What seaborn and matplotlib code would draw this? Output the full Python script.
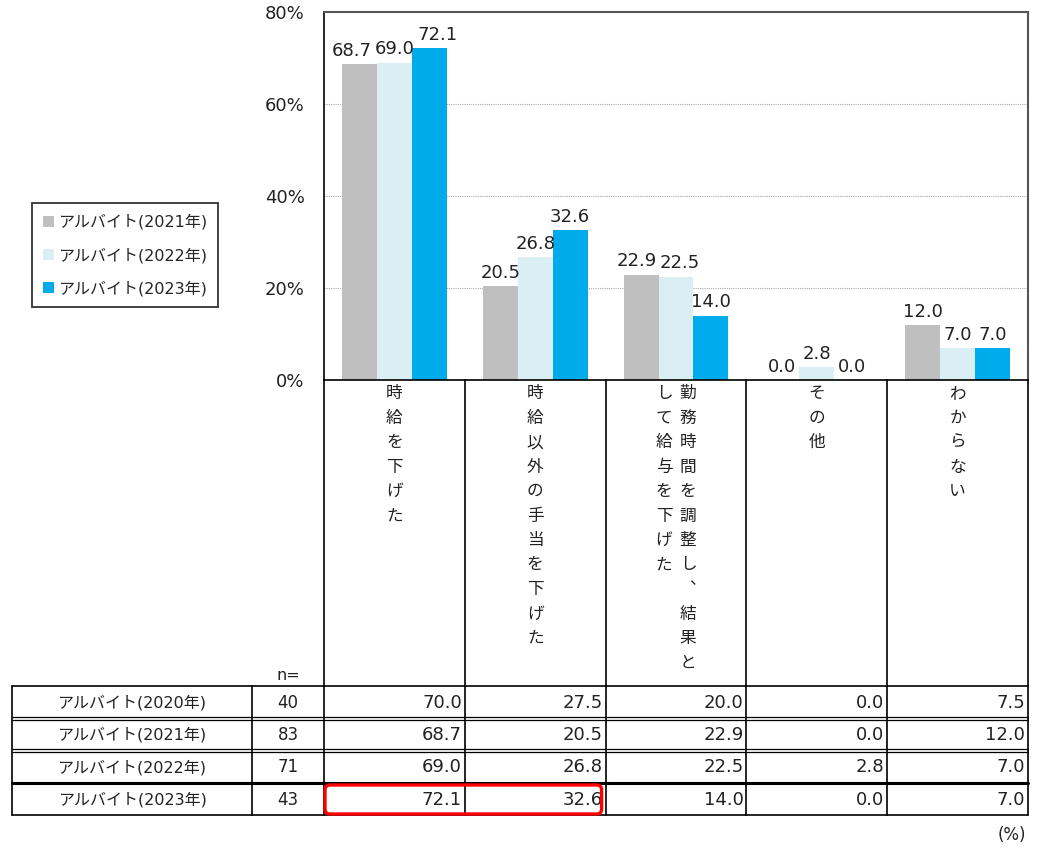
import pandas as pd
import matplotlib.pyplot as plt
import seaborn as sns
from matplotlib.patches import FancyBboxPatch

# Data
categories = ["時給を下げた", "時給以外の手当を下げた",
              "勤務時間を調整し、結果として給与を下げた", "その他", "わからない"]
chart_years = ["アルバイト(2021年)", "アルバイト(2022年)", "アルバイト(2023年)"]
v2021 = [68.7, 20.5, 22.9, 0.0, 12.0]
v2022 = [69.0, 26.8, 22.5, 2.8, 7.0]
v2023 = [72.1, 32.6, 14.0, 0.0, 7.0]
v2020 = [70.0, 27.5, 20.0, 0.0, 7.5]

table_rows = ["アルバイト(2020年)", "アルバイト(2021年)", "アルバイト(2022年)", "アルバイト(2023年)"]
table_n = [40, 83, 71, 43]
table_values = [v2020, v2021, v2022, v2023]

colors = ["#BFBFBF", "#DAEEF3", "#00ABEB"]
yticks = [0, 20, 40, 60, 80]

# Long-form frame for seaborn
df = pd.DataFrame({
    "category": categories * 3,
    "year": [y for y in chart_years for _ in categories],
    "value": v2021 + v2022 + v2023,
})

sns.set_style("white")
plt.rcParams["font.family"] = ["DejaVu Sans", "Noto Sans CJK JP"]

W, H = 1041, 849
AX_L, AX_R, AX_T, AX_B = 324, 1028, 12, 380

fig = plt.figure(figsize=(W / 100, H / 100), dpi=100)
ax = fig.add_axes([AX_L / W, 1 - AX_B / H, (AX_R - AX_L) / W, (AX_B - AX_T) / H])

sns.barplot(data=df, x="category", y="value", hue="year", palette=colors,
            width=0.745, saturation=1, linewidth=0, ax=ax)

bar_texts = []
for cont in ax.containers:
    bar_texts.append(ax.bar_label(cont, fmt="%.1f", padding=3, fontsize=13, color="#222222"))

ax.set_ylim(0, 80)
ax.set_yticks(yticks)
ax.set_yticklabels([f"{t}%" for t in yticks], fontsize=13, color="#222222")
ax.tick_params(axis="y", direction="in", length=5, pad=14, color="#444444")
ax.tick_params(axis="x", bottom=False, labelbottom=False)
ax.set_xlabel("")
ax.set_ylabel("")
for t in yticks[1:-1]:
    ax.axhline(t, color="#AAAAAA", lw=0.8, ls=(0, (1, 1)), zorder=0)
for s in ["top", "right"]:
    ax.spines[s].set_color("#555555")
    ax.spines[s].set_linewidth(1.5)
for s in ["left", "bottom"]:
    ax.spines[s].set_color("black")
    ax.spines[s].set_linewidth(1.2)

handles, labels = ax.get_legend_handles_labels()
ax.get_legend().remove()
leg = fig.legend(handles, labels, loc="upper left",
                 bbox_to_anchor=(32 / W, 1 - 203 / H), fontsize=11.5,
                 frameon=True, fancybox=False, edgecolor="black",
                 handlelength=0.7, handleheight=0.7, handletextpad=0.2,
                 labelspacing=1.1, borderpad=0.7, borderaxespad=0)
leg.get_frame().set_linewidth(1.3)

# push apart value labels that collide within a group
fig.canvas.draw()
renderer = fig.canvas.get_renderer()
for g in range(len(categories)):
    anns = [bar_texts[s][g] for s in range(len(bar_texts))]
    for _ in range(3):
        for a, b in zip(anns[:-1], anns[1:]):
            ba = a.get_window_extent(renderer)
            bb = b.get_window_extent(renderer)
            v_ov = min(ba.y1, bb.y1) - max(ba.y0, bb.y0)
            h_ov = ba.x1 - bb.x0 + 3
            if v_ov > 0 and h_ov > 0:
                sh = h_ov / 2 * 0.72
                a.xyann = (a.xyann[0] - sh, a.xyann[1])
                b.xyann = (b.xyann[0] + sh, b.xyann[1])
        fig.canvas.draw()

# Overlay in pixel coordinates for category labels and table
ov = fig.add_axes([0, 0, 1, 1])
ov.set_xlim(0, W)
ov.set_ylim(H, 0)
ov.axis("off")

cw = (AX_R - AX_L) / len(categories)
edges = [AX_L + i * cw for i in range(len(categories) + 1)]
row_lines = [686, 718, 750, 783, 815]
LAB_L, N_L = 12, 252

# category column lines
for x in edges:
    ov.plot([x, x], [AX_B, row_lines[-1]], color="black", lw=1.2)

# vertical category text
step = 24.5
for i, cat in enumerate(categories):
    cols = [cat[k:k + 12] for k in range(0, len(cat), 12)]
    cx = (edges[i] + edges[i + 1]) / 2
    ncol = len(cols)
    for j, col in enumerate(cols):
        x = cx + (ncol - 1) * 12 - j * 24
        for k, ch in enumerate(col):
            y = 393 + k * step
            dx, dy = (0, 0)
            if ch == "、":
                dx, dy = 9, -10
            ov.text(x + dx, y + dy, ch, ha="center", va="center",
                    fontsize=12, color="#222222")

# table lines
ov.plot([LAB_L, edges[-1]], [row_lines[0]] * 2, color="black", lw=1.2)
for y in (row_lines[1], row_lines[2]):
    ov.plot([LAB_L, edges[-1]], [y - 1.5] * 2, color="black", lw=0.9)
    ov.plot([LAB_L, edges[-1]], [y + 1.5] * 2, color="black", lw=0.9)
ov.plot([LAB_L, edges[-1]], [row_lines[3]] * 2, color="black", lw=2.2)
ov.plot([LAB_L, edges[-1]], [row_lines[4]] * 2, color="black", lw=1.2)
for x in (LAB_L, N_L):
    ov.plot([x, x], [row_lines[0], row_lines[-1]], color="black", lw=1.2)

ov.text((N_L + AX_L) / 2, 676, "n=", ha="center", va="center", fontsize=11.5, color="#222222")

for r, (lab, n, vals) in enumerate(zip(table_rows, table_n, table_values)):
    yc = (row_lines[r] + row_lines[r + 1]) / 2 + 1
    ov.text((LAB_L + N_L) / 2, yc, lab, ha="center", va="center", fontsize=11.5, color="#222222")
    ov.text((N_L + AX_L) / 2, yc, str(n), ha="center", va="center", fontsize=12, color="#222222")
    for c, v in enumerate(vals):
        ov.text(edges[c + 1] - 3, yc, f"{v:.1f}", ha="right", va="center",
                fontsize=13, color="#222222")

# red highlight box
box = FancyBboxPatch((AX_L + 1, row_lines[3] + 2), edges[2] - AX_L - 5, row_lines[4] - row_lines[3] - 3,
                     boxstyle="round,pad=0,rounding_size=5", fill=False,
                     edgecolor="#FF0000", linewidth=2.4, zorder=5)
ov.add_patch(box)

ov.text(1026, 835, "(%)", ha="right", va="center", fontsize=12, color="#222222")

fig.savefig("out.png", dpi=100)
